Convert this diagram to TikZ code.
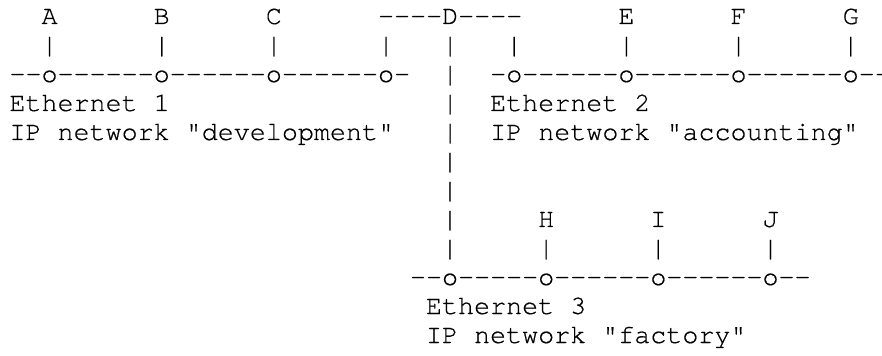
\documentclass[tikz,border=0pt]{standalone}
\usepackage{fontspec}
\setmonofont[FakeBold=0.5]{TeX Gyre Cursor}
\usepackage{tikz}
\tikzset{every picture/.style={line width=0.75pt}}
\tikzset{asciirow/.style={font=\ttfamily\fontsize{20.03}{24}\selectfont\frenchspacing, inner sep=0pt, anchor=base west}}

\begin{document}
\begin{tikzpicture}[x=0.75pt,y=0.75pt,yscale=-1,xscale=1]
%set diagram left start at 0, and has height of 356
\useasboundingbox (0,0) rectangle (882,356);

% Text Node
\draw (9,24) node [asciirow] (row1) {~~A~~~~~~B~~~~~~C~~~~~~----D----~~~~~~E~~~~~~F~~~~~~G};
% Text Node
\draw (9,53) node [asciirow] (row2) {~~|~~~~~~|~~~~~~|~~~~~~|~~~|~~~|~~~~~~|~~~~~~|~~~~~~|};
% Text Node
\draw (9,82) node [asciirow] (row3) {--o------o------o------o-~~|~~-o------o------o------o--};
% Text Node
\draw (9,111) node [asciirow] (row4) {Ethernet~1~~~~~~~~~~~~~~~~~|~~Ethernet~2};
% Text Node
\draw (9,140) node [asciirow] (row5) {IP~network~"development"~~~|~~IP~network~"accounting"};
% Text Node
\draw (441.5,169) node [asciirow] (row6) {|};
% Text Node
\draw (441.5,198) node [asciirow] (row7) {|};
% Text Node
\draw (441.5,227) node [asciirow] (row8) {|~~~~~H~~~~~~I~~~~~~J};
% Text Node
\draw (441.5,256) node [asciirow] (row9) {|~~~~~|~~~~~~|~~~~~~|};
% Text Node
\draw (409.5,285) node [asciirow] (row10) {--o-----o------o------o--};
% Text Node
\draw (425.5,314) node [asciirow] (row11) {Ethernet~3};
% Text Node
\draw (425.5,343) node [asciirow] (row12) {IP~network~"factory"};

\end{tikzpicture}
\end{document}
